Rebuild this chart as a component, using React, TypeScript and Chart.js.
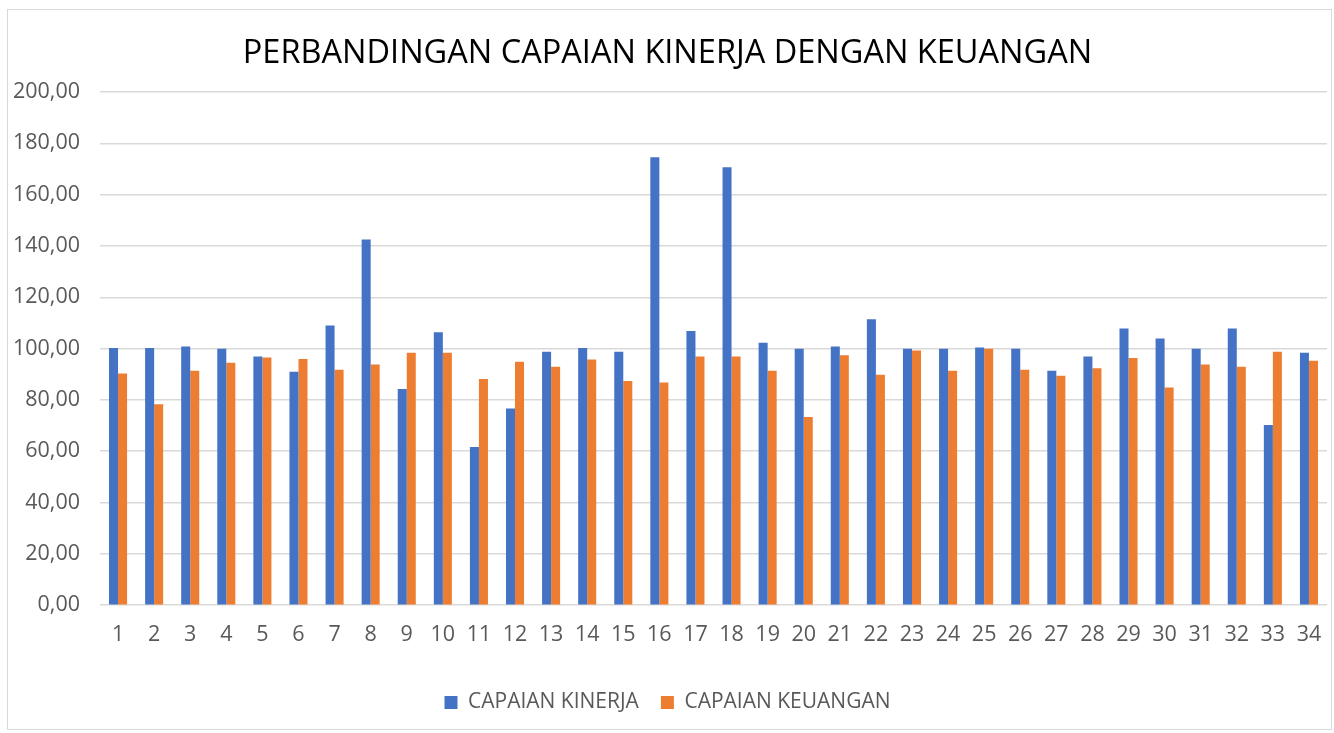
import React, { useEffect, useRef } from "react";
import { Chart, registerables } from "chart.js";

Chart.register(...registerables);

const categories: string[] = Array.from({ length: 34 }, (_, i) => String(i + 1));

const capaianKinerja: number[] = [
  100.2, 100.2, 100.8, 99.9, 96.9, 91.0, 109.0, 142.5, 84.3, 106.4,
  61.7, 76.7, 98.8, 100.2, 98.8, 174.6, 106.9, 170.7, 102.3, 99.9,
  100.8, 111.4, 99.9, 99.9, 100.4, 99.9, 91.4, 96.9, 107.8, 103.9,
  99.9, 107.8, 70.2, 98.4,
];

const capaianKeuangan: number[] = [
  90.3, 78.3, 91.4, 94.5, 96.5, 95.9, 91.8, 93.8, 98.4, 98.4,
  88.2, 94.9, 92.9, 95.8, 87.4, 86.8, 96.9, 96.9, 91.4, 73.3,
  97.4, 89.8, 99.3, 91.4, 99.9, 91.8, 89.4, 92.3, 96.3, 84.8,
  93.8, 92.9, 98.8, 95.3,
];

const seriesLabels: string[] = ["CAPAIAN KINERJA", "CAPAIAN KEUANGAN"];
const titleText = "PERBANDINGAN CAPAIAN KINERJA DENGAN KEUANGAN";

export default function App() {
  const ref = useRef<HTMLCanvasElement | null>(null);

  useEffect(() => {
    if (!ref.current) return;
    const font = "'Open Sans', 'Liberation Sans', sans-serif";
    const chart = new Chart(ref.current, {
      type: "bar",
      data: {
        labels: categories,
        datasets: [
          {
            label: seriesLabels[0],
            data: capaianKinerja,
            backgroundColor: "#4472C4",
            categoryPercentage: 0.5,
            barPercentage: 1.0,
          },
          {
            label: seriesLabels[1],
            data: capaianKeuangan,
            backgroundColor: "#ED7D31",
            categoryPercentage: 0.5,
            barPercentage: 1.0,
          },
        ],
      },
      options: {
        animation: false,
        responsive: true,
        maintainAspectRatio: false,
        layout: { padding: { left: 0, right: 4, top: 0, bottom: 6 } },
        plugins: {
          title: {
            display: true,
            text: titleText,
            color: "#000000",
            font: { family: font, size: 32.5, weight: "normal" },
            padding: { top: 24, bottom: 19 },
          },
          legend: {
            display: true,
            position: "bottom",
            labels: {
              color: "#595959",
              font: { family: font, size: 21 },
              boxWidth: 13,
              boxHeight: 13,
              padding: 22,
            },
          },
          tooltip: { enabled: false },
        },
        scales: {
          x: {
            grid: { display: false },
            border: { display: false },
            afterFit: (scale: any) => {
              scale.height += 13;
            },
            ticks: {
              color: "#595959",
              font: { family: font, size: 21.5 },
              padding: 9,
              maxRotation: 0,
              autoSkip: false,
            },
          },
          y: {
            min: 0,
            max: 200,
            afterFit: (scale: any) => {
              scale.width = 92;
            },
            grid: {
              color: "#d9d9d9",
              lineWidth: 1.5,
              drawTicks: false,
            },
            border: { display: false },
            ticks: {
              stepSize: 20,
              color: "#595959",
              font: { family: font, size: 21.5 },
              padding: 20,
              callback: (v: any) => Number(v).toFixed(2).replace(".", ","),
            },
          },
        },
      },
    });
    return () => chart.destroy();
  }, []);

  return (
    <div
      style={{
        position: "absolute",
        left: 7,
        top: 9,
        width: 1325,
        height: 721,
        border: "1px solid #d9d9d9",
        boxSizing: "border-box",
        background: "#fff",
      }}
    >
      <div style={{ position: "relative", width: "100%", height: "100%" }}>
        <canvas ref={ref} />
      </div>
    </div>
  );
}
